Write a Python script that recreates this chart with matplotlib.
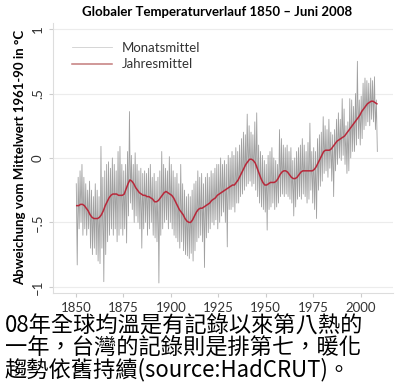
import numpy as np
import matplotlib
matplotlib.use('Agg')
import matplotlib.pyplot as plt

plt.rcParams['font.family'] = ['Lato', 'DejaVu Sans']

years = np.arange(1850, 2009)

# smoothed annual mean (Jahresmittel)
annual = [
    -0.37, -0.37, -0.36, -0.36, -0.37, -0.39, -0.41, -0.44, -0.46, -0.47,  # 1850
    -0.47, -0.47, -0.46, -0.44, -0.41, -0.37, -0.34, -0.31, -0.29, -0.28,  # 1860
    -0.28, -0.28, -0.29, -0.29, -0.29, -0.28, -0.24, -0.20, -0.17, -0.18,  # 1870
    -0.20, -0.23, -0.25, -0.27, -0.28, -0.29, -0.29, -0.30, -0.30, -0.31,  # 1880
    -0.32, -0.34, -0.34, -0.33, -0.31, -0.29, -0.27, -0.26, -0.27, -0.28,  # 1890
    -0.29, -0.31, -0.34, -0.37, -0.40, -0.42, -0.44, -0.47, -0.49, -0.50,  # 1900
    -0.50, -0.48, -0.45, -0.42, -0.40, -0.39, -0.39, -0.38, -0.37, -0.36,  # 1910
    -0.35, -0.33, -0.32, -0.31, -0.29, -0.28, -0.27, -0.26, -0.25, -0.24,  # 1920
    -0.23, -0.22, -0.21, -0.21, -0.19, -0.17, -0.14, -0.11, -0.08, -0.05,  # 1930
    -0.03, -0.01, -0.01, -0.02, -0.04, -0.08, -0.12, -0.16, -0.19, -0.21,  # 1940
    -0.21, -0.20, -0.19, -0.19, -0.19, -0.18, -0.16, -0.13, -0.11, -0.10,  # 1950
    -0.10, -0.11, -0.13, -0.15, -0.16, -0.16, -0.15, -0.13, -0.11, -0.10,  # 1960
    -0.10, -0.10, -0.10, -0.10, -0.10, -0.09, -0.07, -0.04, -0.01, 0.02,   # 1970
    0.05, 0.06, 0.06, 0.06, 0.07, 0.09, 0.11, 0.13, 0.14, 0.15,            # 1980
    0.16, 0.17, 0.19, 0.21, 0.23, 0.25, 0.27, 0.29, 0.31, 0.33,            # 1990
    0.36, 0.38, 0.40, 0.42, 0.43, 0.44, 0.44, 0.43, 0.42,                  # 2000
]

# monthly extremes per year (Monatsmittel)
monthly_hi = [
    -0.20, -0.15, -0.10, -0.05, -0.15, -0.20, -0.25, -0.18, -0.25, -0.30,
    -0.20, -0.25, -0.30, 0.09, -0.15, -0.10, -0.05, -0.03, -0.08, 0.00,
    -0.05, -0.10, 0.05, 0.09, -0.05, -0.10, -0.05, 0.05, 0.36, 0.02,
    -0.05, 0.04, -0.05, -0.10, -0.08, -0.12, -0.10, -0.12, -0.08, -0.05,
    -0.15, -0.12, -0.18, -0.15, -0.10, 0.05, -0.05, -0.08, -0.10, 0.01,
    -0.05, -0.10, -0.15, -0.12, -0.20, -0.05, -0.20, -0.25, -0.30, -0.28,
    -0.30, -0.25, -0.20, -0.18, -0.10, -0.15, -0.12, -0.20, -0.15, -0.12,
    -0.15, -0.10, -0.12, -0.08, -0.05, -0.05, 0.00, -0.05, -0.02, -0.05,
    0.02, 0.00, 0.05, 0.02, 0.08, 0.05, 0.10, 0.15, 0.20, 0.18,
    0.34, 0.25, 0.20, 0.18, 0.28, 0.35, 0.10, 0.05, 0.02, -0.02,
    -0.05, 0.02, 0.05, 0.08, 0.00, -0.02, -0.05, 0.22, 0.15, 0.10,
    0.08, 0.10, 0.05, 0.08, -0.02, 0.00, 0.05, 0.08, 0.10, 0.15,
    0.10, 0.05, 0.12, 0.27, 0.05, 0.08, 0.05, 0.15, 0.18, 0.20,
    0.32, 0.25, 0.22, 0.30, 0.20, 0.18, 0.22, 0.30, 0.35, 0.30,
    0.46, 0.38, 0.25, 0.28, 0.46, 0.45, 0.40, 0.50, 0.75, 0.45,
    0.48, 0.58, 0.62, 0.60, 0.58, 0.62, 0.60, 0.63, 0.45,
]
monthly_lo = [
    -0.83, -0.55, -0.50, -0.60, -0.55, -0.60, -0.55, -0.70, -0.75, -0.70,
    -0.75, -0.80, -0.82, -0.70, -0.96, -0.75, -0.65, -0.60, -0.55, -0.60,
    -0.55, -0.65, -0.60, -0.55, -0.60, -0.55, -0.66, -0.45, -0.35, -0.40,
    -0.50, -0.45, -0.50, -0.55, -0.70, -0.55, -0.50, -0.60, -0.55, -0.50,
    -0.60, -0.62, -0.65, -0.97, -0.60, -0.55, -0.50, -0.48, -0.55, -0.50,
    -0.55, -0.60, -0.62, -0.65, -0.70, -0.65, -0.72, -0.75, -0.76, -0.78,
    -0.74, -0.80, -0.72, -0.65, -0.62, -0.60, -0.65, -0.85, -0.62, -0.58,
    -0.55, -0.50, -0.52, -0.48, -0.55, -0.50, -0.45, -0.42, -0.50, -0.69,
    -0.40, -0.40, -0.38, -0.42, -0.35, -0.35, -0.30, -0.28, -0.25, -0.22,
    -0.20, -0.18, -0.22, -0.20, -0.25, -0.30, -0.35, -0.38, -0.40, -0.42,
    -0.56, -0.40, -0.38, -0.35, -0.40, -0.38, -0.35, -0.30, -0.28, -0.30,
    -0.28, -0.30, -0.32, -0.35, -0.45, -0.38, -0.32, -0.30, -0.32, -0.28,
    -0.30, -0.35, -0.32, -0.25, -0.35, -0.40, -0.47, -0.25, -0.22, -0.18,
    -0.12, -0.10, -0.15, -0.08, -0.18, -0.30, -0.10, -0.05, 0.00, -0.02,
    0.02, -0.05, -0.12, -0.10, 0.00, 0.05, 0.05, 0.10, 0.15, 0.10,
    0.15, 0.22, 0.25, 0.28, 0.25, 0.30, 0.28, 0.22, 0.05,
]

ytick_vals = [-1, -0.5, 0, 0.5, 1]
ytick_labels = ['\u20131', '\u2013.5', '0', '.5', '1']
xtick_vals = [1850, 1875, 1900, 1925, 1950, 1975, 2000]

caption = [
    '08年全球均溫是有記錄以來第八熱的',
    '一年，台灣的記錄則是排第七，暖化',
    '趨勢依舊持續(source:HadCRUT)。',
]

# zigzag between yearly high and low to mimic the monthly trace
mx = np.column_stack([years + 0.25, years + 0.75]).ravel()
my = np.column_stack([monthly_hi, monthly_lo]).ravel()

fig = plt.figure(figsize=(4, 3.9), dpi=100)
ax = fig.add_axes([0.1325, 0.249, 0.85, 0.693])

ax.plot(mx, my, color='#a0a0a0', lw=0.6, label='Monatsmittel')
ax.plot(years + 0.5, annual, color='#b8283a', lw=1.1, label='Jahresmittel')

ax.set_xlim(1838, 2017)
ax.set_ylim(-1.047, 1.05)
ax.set_yticks(ytick_vals)
ax.set_yticklabels(ytick_labels, rotation=90, va='center')
ax.set_xticks(xtick_vals)
ax.tick_params(colors='#cccccc', labelcolor='#333333', labelsize=9.5, length=3)
ax.grid(axis='y', color='#ececec', lw=0.8)
ax.set_axisbelow(True)
for s in ['top', 'right']:
    ax.spines[s].set_visible(False)
for s in ['left', 'bottom']:
    ax.spines[s].set_color('#dddddd')

ax.set_ylabel('Abweichung vom Mittelwert 1961-90 in °C', fontweight='bold',
              fontsize=9.5, labelpad=4)
fig.text(0.543, 0.968, 'Globaler Temperaturverlauf 1850 \u2013 Juni 2008',
         ha='center', va='center', fontweight='bold', fontsize=9.5)

leg = ax.legend(loc='upper left', bbox_to_anchor=(0.056, 0.93), frameon=False,
                fontsize=9.5, handlelength=3.0, handletextpad=0.8,
                borderpad=0, borderaxespad=0, labelspacing=0.35)
for t in leg.get_texts():
    t.set_color('#333333')
leg.get_lines()[0].set_color('#cfcfcf')
leg.get_lines()[1].set_color('#c47c7c')

ys = [0.164, 0.108, 0.052]
for line, y in zip(caption, ys):
    fig.text(0.012, y, line, ha='left', va='center', fontsize=16,
             family=['Noto Sans CJK TC', 'DejaVu Sans'])

fig.savefig('out.png', dpi=100)
